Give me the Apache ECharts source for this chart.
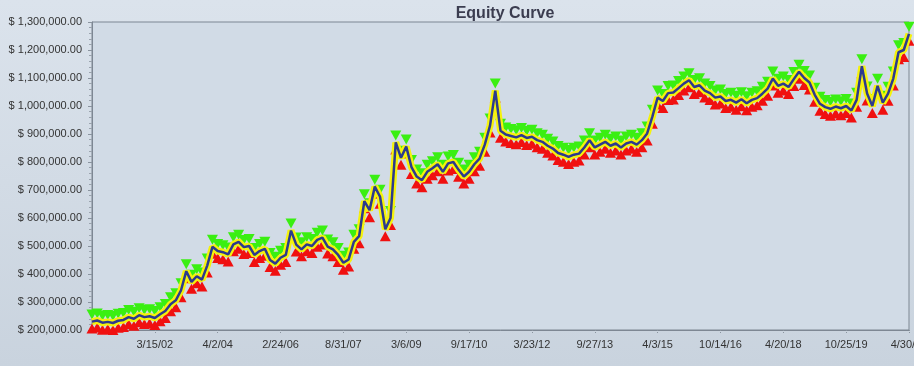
<!DOCTYPE html>
<html>
<head>
<meta charset="utf-8">
<script src="https://cdn.jsdelivr.net/npm/echarts@6/dist/echarts.min.js"></script>
<style>
html,body{margin:0;padding:0;}
#c{width:914px;height:366px;}
</style>
</head>
<body>
<div id="c"></div>
<script>
// Equity values in thousands of dollars, one per bar (index 0..156)
var equityK = [
230,234,226,229,225,233,236,246,240,253,246,249,243,256,268,292,306,342,410,372,
392,380,430,497,482,478,470,506,515,496,500,468,482,490,450,437,458,468,555,505,
488,506,500,522,530,498,488,468,440,452,515,535,660,628,712,676,560,600,870,815,
855,782,748,735,765,778,792,765,795,800,772,748,765,792,812,862,930,1055,912,898,
893,888,896,886,890,878,872,858,848,832,826,818,826,830,852,878,852,862,872,858,
866,852,866,872,862,878,902,962,1030,1018,1046,1048,1064,1080,1092,1068,1074,1055,1046,1030,
1034,1018,1022,1012,1024,1010,1022,1028,1044,1062,1098,1072,1080,1068,1096,1122,1100,1084,1040,1008,
996,990,998,992,1000,984,1022,1142,1045,1000,1072,1012,1044,1098,1192,1200,1258
];
var tickLabels = ['3/15/02','4/2/04','2/24/06','8/31/07','3/6/09','9/17/10','3/23/12','9/27/13','4/3/15','10/14/16','4/20/18','10/25/19','4/30/21'];
var labelStep = 12;
var yMin = 200000, yMax = 1300000, yStep = 100000;

var categories = equityK.map(function(v, i){ return i; });
var equity = equityK.map(function(v){ return v * 1000; });

var chart = echarts.init(document.getElementById('c'), null, {renderer:'canvas'});
var font = 'Liberation Sans, Arial, sans-serif';
var showIdx = function(i){ return i > 0 && i % labelStep === 0; };

chart.setOption({
  animation: false,
  backgroundColor: new echarts.graphic.LinearGradient(0, 0, 0, 1, [
    {offset: 0, color: '#dbe3ec'}, {offset: 1, color: '#c9d3de'}
  ]),
  title: {
    text: 'Equity Curve',
    left: 500, textAlign: 'center', top: 1,
    textStyle: {fontFamily: font, fontSize: 16, fontWeight: 'bold', color: '#3b3d50'}
  },
  grid: {
    left: 92, right: 5, top: 22, bottom: 36, outerBoundsMode: 'none', containLabel: false,
    show: true, backgroundColor: '#d1dbe6', borderColor: '#7d8793', borderWidth: 1
  },
  xAxis: {
    type: 'category', data: categories, boundaryGap: false,
    axisLine: {lineStyle: {color: '#7d8793', width: 1}},
    axisTick: {show: true, interval: showIdx, length: 4, lineStyle: {color: '#8a949f', type: 'dotted'}},
    axisLabel: {
      interval: showIdx, color: '#333', fontFamily: font, fontSize: 11, margin: 9,
      hideOverlap: false,
      formatter: function(v, i){ return tickLabels[i / labelStep - 1] || ''; }
    },
    splitLine: {show: false}
  },
  yAxis: {
    type: 'value', min: yMin, max: yMax, interval: yStep,
    axisLine: {show: true, lineStyle: {color: '#7d8793', width: 1}},
    axisTick: {show: true, length: 4, lineStyle: {color: '#8a949f'}},
    minorTick: {show: true, splitNumber: 5, length: 3, lineStyle: {color: '#9aa3ad'}},
    axisLabel: {
      color: '#333', fontFamily: font, fontSize: 11, margin: 10,
      formatter: function(v){
        return '$ ' + v.toLocaleString('en-US', {minimumFractionDigits: 2, maximumFractionDigits: 2});
      }
    },
    splitLine: {show: false}
  },
  series: [
    {
      name: 'low', type: 'line', data: equity, showSymbol: true, showAllSymbol: true,
      symbol: 'triangle', symbolSize: [11, 10], symbolOffset: [0, 7],
      itemStyle: {color: '#f01010'}, lineStyle: {opacity: 0}, z: 2
    },
    {
      name: 'high', type: 'line', data: equity, showSymbol: true, showAllSymbol: true,
      symbol: 'triangle', symbolRotate: 180, symbolSize: [11, 10], symbolOffset: [0, -7],
      itemStyle: {color: '#3aef12'}, lineStyle: {opacity: 0}, z: 2
    },
    {
      name: 'band', type: 'line', data: equity, showSymbol: false,
      lineStyle: {color: '#f5f20c', width: 7}, z: 3
    },
    {
      name: 'equity', type: 'line', data: equity, showSymbol: false,
      lineStyle: {color: '#2c3a8e', width: 2.5}, z: 4
    }
  ]
});
</script>
</body>
</html>
